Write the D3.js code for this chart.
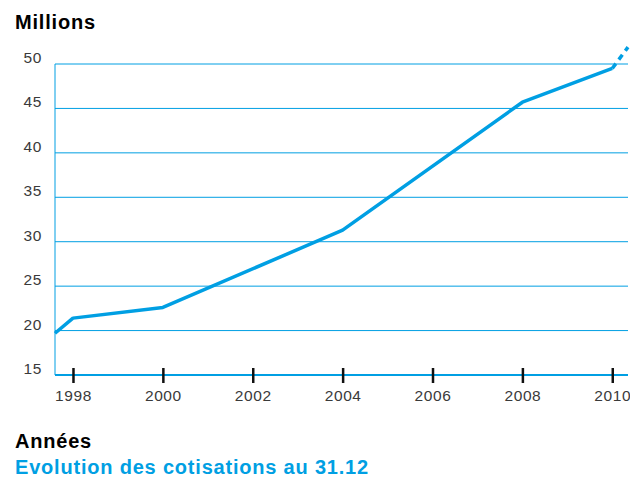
<!DOCTYPE html>
<html>
<head>
<meta charset="utf-8">
<script src="https://cdn.jsdelivr.net/npm/d3@7"></script>
<style>
  body { margin: 0; background: #fff; }
  svg text { font-family: "Liberation Sans", Arial, Helvetica, sans-serif; }
</style>
</head>
<body>
<div id="chart"></div>
<script>
// values (millions)
var years = [1997.6, 1998, 2000, 2004, 2008, 2010];
var values = [19.7, 21.4, 22.6, 31.3, 45.7, 49.5];
var projYears = [2010, 2010.35];
var projValues = [49.5, 51.9];
var yTicks = [15, 20, 25, 30, 35, 40, 45, 50];
var xTicks = [1998, 2000, 2002, 2004, 2006, 2008, 2010];

var blue = "#009fe3";

var margin = { top: 64, right: 2, bottom: 106, left: 55 };
var width = 630 - margin.left - margin.right,
    height = 481 - margin.top - margin.bottom;

var svg = d3.select("#chart").append("svg")
    .attr("width", 630)
    .attr("height", 481);

var g = svg.append("g")
    .attr("transform", "translate(" + margin.left + "," + margin.top + ")");

var x = d3.scaleLinear()
    .domain([1997.6, 2010.35])
    .range([0, width]);

var y = d3.scaleLinear()
    .domain([15, 50])
    .range([height, 0]);

// gridlines
g.selectAll(".grid")
    .data(yTicks.filter(function (d) { return d > 15; }))
    .enter().append("line")
    .attr("x1", 0)
    .attr("x2", width)
    .attr("y1", function (d) { return y(d); })
    .attr("y2", function (d) { return y(d); })
    .attr("stroke", blue)
    .attr("stroke-width", 1);

// left axis line
g.append("line")
    .attr("x1", 0).attr("x2", 0)
    .attr("y1", 0).attr("y2", height)
    .attr("stroke", blue)
    .attr("stroke-width", 1);

// y labels
g.selectAll(".ylab")
    .data(yTicks)
    .enter().append("text")
    .attr("x", -13)
    .attr("y", function (d) { return y(d) - 1; })
    .attr("text-anchor", "end")
    .attr("font-size", 15.5)
    .attr("letter-spacing", 0.6)
    .attr("fill", "#3a3a3a")
    .text(function (d) { return d; });

// bottom axis
g.append("line")
    .attr("x1", 0).attr("x2", width)
    .attr("y1", height).attr("y2", height)
    .attr("stroke", blue)
    .attr("stroke-width", 2);

var xAxis = d3.axisBottom(x)
    .tickValues(xTicks)
    .tickSize(0)
    .tickFormat(d3.format("d"));

var gx = g.append("g")
    .attr("transform", "translate(0," + height + ")")
    .call(xAxis);
gx.select(".domain").remove();
gx.selectAll(".tick line").remove();
gx.selectAll(".tick").append("line")
    .attr("y1", -7).attr("y2", 8)
    .attr("stroke", "#111")
    .attr("stroke-width", 2.5);
gx.selectAll(".tick text")
    .attr("y", 15)
    .attr("dy", "0.71em")
    .attr("font-size", 15.5)
    .attr("letter-spacing", 0.6)
    .attr("fill", "#3a3a3a")
    .attr("font-family", null);

// data line
var line = d3.line()
    .x(function (d) { return x(d[0]); })
    .y(function (d) { return y(d[1]); });

g.append("path")
    .datum(d3.zip(years, values))
    .attr("d", line)
    .attr("fill", "none")
    .attr("stroke", blue)
    .attr("stroke-width", 3.5)
    .attr("stroke-linejoin", "round");

g.append("path")
    .datum(d3.zip(projYears, projValues))
    .attr("d", line)
    .attr("fill", "none")
    .attr("stroke", blue)
    .attr("stroke-width", 3.5)
    .attr("stroke-dasharray", "6,5");

// titles
svg.append("text")
    .attr("x", 15).attr("y", 29)
    .attr("font-size", 20)
    .attr("letter-spacing", 0.8)
    .attr("font-weight", "bold")
    .attr("fill", "#000")
    .text("Millions");

svg.append("text")
    .attr("x", 15).attr("y", 448)
    .attr("font-size", 20)
    .attr("letter-spacing", 0.8)
    .attr("font-weight", "bold")
    .attr("fill", "#000")
    .text("Années");

svg.append("text")
    .attr("x", 15).attr("y", 474)
    .attr("font-size", 20)
    .attr("letter-spacing", 0.8)
    .attr("font-weight", "bold")
    .attr("fill", blue)
    .text("Evolution des cotisations au 31.12");
</script>
</body>
</html>
